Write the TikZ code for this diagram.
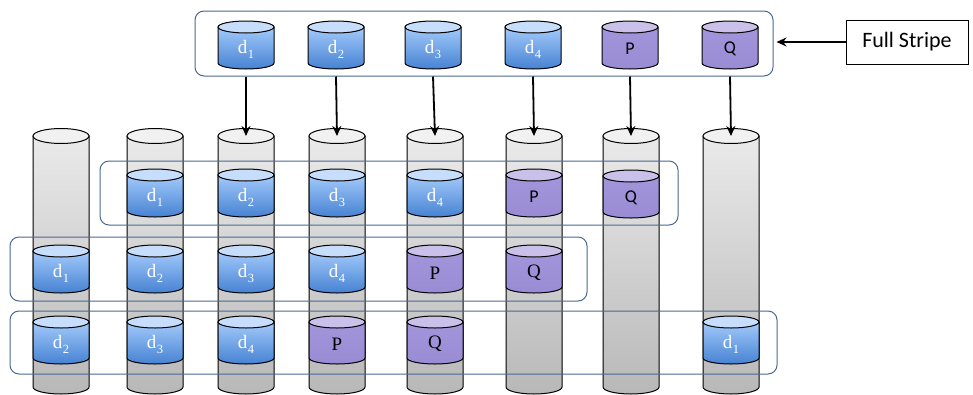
\documentclass[tikz,border=0pt]{standalone}
\usepackage{fontspec}
\setmainfont{Liberation Serif}
\setsansfont{Carlito}
\usetikzlibrary{arrows.meta}
\definecolor{boxblue}{HTML}{4A6892}
\definecolor{btop}{HTML}{C6DDFB}
\definecolor{bhi}{HTML}{A3CAFA}
\definecolor{blo}{HTML}{4682D3}
\definecolor{ptop}{HTML}{C9C1E9}
\definecolor{phi}{HTML}{A295DB}
\definecolor{plo}{HTML}{9A8CD4}
\definecolor{coltop}{HTML}{F1F1F1}
\definecolor{colhi}{HTML}{EAEAEA}
\definecolor{collo}{HTML}{B8B8B8}
\tikzset{
  stripe/.style={draw=boxblue, line width=1pt, rounded corners=9pt, inner sep=0pt},
  flow/.style={line width=1.8pt, -{Stealth[length=10pt,width=9pt]}},
  blab/.style={text=white, font=\fontsize{19}{19}\selectfont},
  plab/.style={text=black, font=\fontsize{19}{19}\selectfont},
  slab/.style={text=black, font=\sffamily\fontsize{18}{18}\selectfont},
}
% disk: name, x, ytop, colour prefix (b/p), label style, label
\newcommand\mkdisk[6]{%
  \fill[black, opacity=0.18] (#2-27,#3+40) arc[start angle=180,end angle=0,x radius=27,y radius=8] -- cycle;
  \shadedraw[top color=#4hi, bottom color=#4lo, line width=1pt]
    (#2-28,#3+6) -- (#2-28,#3+42) arc[start angle=180,end angle=0,x radius=28,y radius=6] -- (#2+28,#3+6) -- cycle;
  \draw[fill=#4top, line width=1pt] (#2,#3+6) ellipse[x radius=28, y radius=6];
  \node[#5, inner sep=0pt] (#1) at (#2,#3+28) {#6};
}
% column: name, x
\newcommand\mkcol[2]{%
  \shadedraw[top color=colhi, bottom color=collo, line width=1pt]
    (#2-28,136) -- (#2-28,387) arc[start angle=180,end angle=0,x radius=28,y radius=7] -- (#2+28,136) -- cycle;
  \draw[fill=coltop, line width=1pt] (#2,136) ellipse[x radius=28, y radius=7.5];
  \coordinate (#1) at (#2,136);
}
\newcommand\dd[1]{d\kern0.5pt\raisebox{-5pt}{\fontsize{12.5}{12.5}\selectfont #1}}
\begin{document}
\begin{tikzpicture}[x=1pt, y=-1pt]
\useasboundingbox (0,0) rectangle (973,394);
% columns
\mkcol{c1}{61}
\mkcol{c2}{155}
\mkcol{c3}{246}
\mkcol{c4}{337}
\mkcol{c5}{435}
\mkcol{c6}{534}
\mkcol{c7}{631}
\mkcol{c8}{731}
% stripe boxes
\node[stripe, minimum width=578pt, minimum height=65pt] (top) at (484,43.5) {};
\node[stripe, minimum width=578pt, minimum height=64pt] (ra) at (389,193) {};
\node[stripe, minimum width=577pt, minimum height=64pt] (rb) at (298.5,269) {};
\node[stripe, minimum width=767pt, minimum height=63pt] (rc) at (393.5,342.5) {};
% top row
\mkdisk{t1}{246}{21}{b}{blab}{\dd{1}}
\mkdisk{t2}{336}{21}{b}{blab}{\dd{2}}
\mkdisk{t3}{433}{21}{b}{blab}{\dd{3}}
\mkdisk{t4}{533}{21}{b}{blab}{\dd{4}}
\mkdisk{tp}{630}{21}{p}{slab}{P}
\mkdisk{tq}{730}{21}{p}{slab}{Q}
% row A
\mkdisk{a1}{155}{169}{b}{blab}{\dd{1}}
\mkdisk{a2}{246}{169}{b}{blab}{\dd{2}}
\mkdisk{a3}{337}{169}{b}{blab}{\dd{3}}
\mkdisk{a4}{435}{169}{b}{blab}{\dd{4}}
\mkdisk{ap}{534}{169}{p}{slab}{P}
\mkdisk{aq}{631}{170}{p}{slab}{Q}
% row B
\mkdisk{b1}{61}{245}{b}{blab}{\dd{1}}
\mkdisk{b2}{155}{245}{b}{blab}{\dd{2}}
\mkdisk{b3}{246}{245}{b}{blab}{\dd{3}}
\mkdisk{b4}{337}{245}{b}{blab}{\dd{4}}
\mkdisk{bp}{435}{245}{p}{plab}{P}
\mkdisk{bq}{534}{245}{p}{plab}{Q}
% row C
\mkdisk{e2}{61}{316}{b}{blab}{\dd{2}}
\mkdisk{e3}{155}{316}{b}{blab}{\dd{3}}
\mkdisk{e4}{246}{316}{b}{blab}{\dd{4}}
\mkdisk{ep}{337}{316}{p}{plab}{P}
\mkdisk{eq}{435}{316}{p}{plab}{Q}
\mkdisk{e1}{731}{316}{b}{blab}{\dd{1}}
% arrows
\draw[flow] (t1 |- top.south) -- (c3);
\draw[flow] (t2 |- top.south) -- (c4);
\draw[flow] (t3 |- top.south) -- (c5);
\draw[flow] (t4 |- top.south) -- (c6);
\draw[flow] (tp |- top.south) -- (c7);
\draw[flow] (tq |- top.south) -- (c8);
% full stripe
\node[draw=black, line width=0.8pt, minimum width=122pt, minimum height=44pt, inner sep=0pt,
      font=\sffamily\fontsize{22}{22}\selectfont] (fs) at (907,42) {Full Stripe};
\draw[flow] (fs.west) -- ([xshift=3pt]top.east |- fs.west);
\end{tikzpicture}
\end{document}
